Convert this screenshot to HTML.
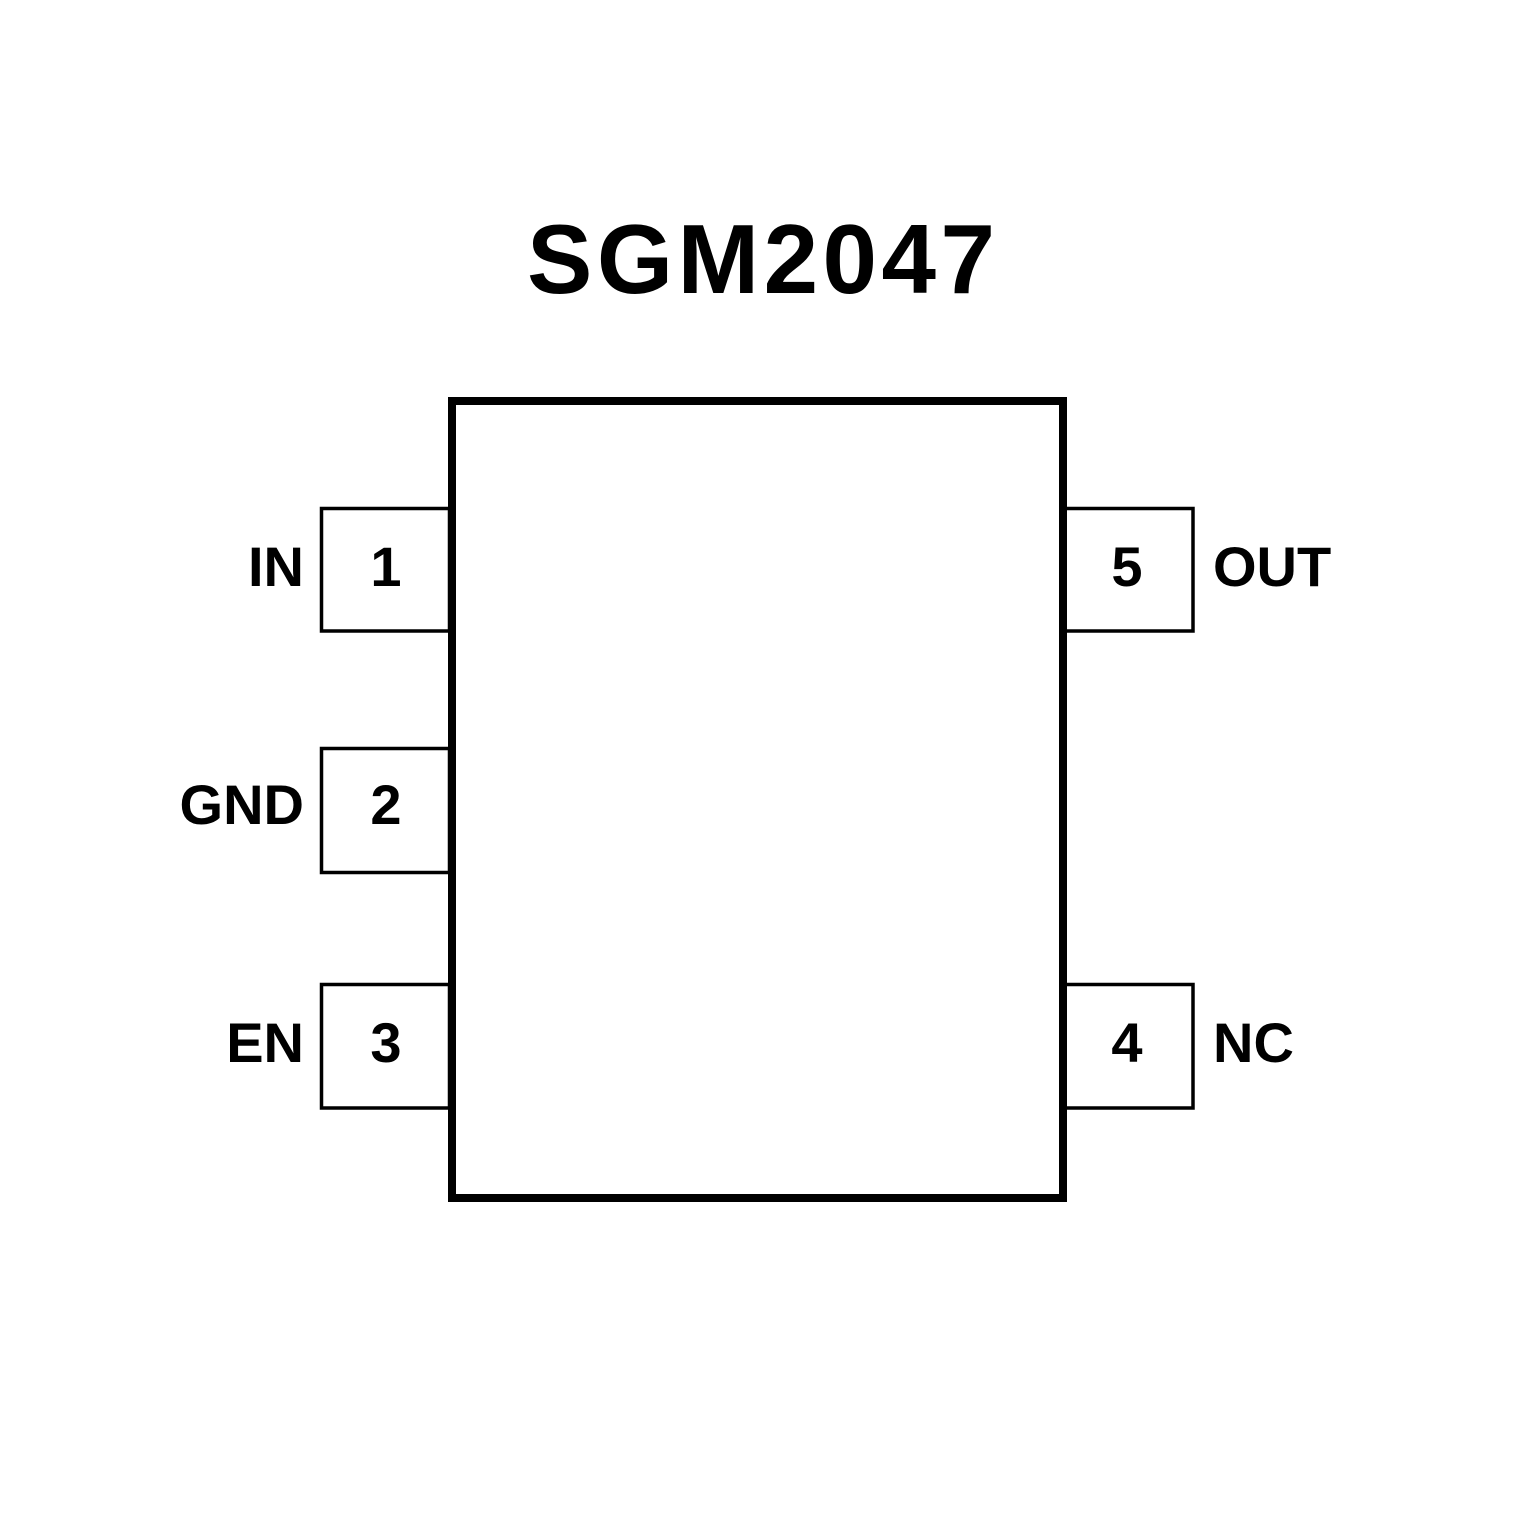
<!DOCTYPE html>
<html><head><meta charset="utf-8"><style>
html,body{margin:0;padding:0;background:#fff}
svg{display:block}
text{font-family:"Liberation Sans",Arial,sans-serif;font-weight:bold;fill:#000}
</style></head><body>
<svg width="1535" height="1535" viewBox="0 0 1535 1535" xmlns="http://www.w3.org/2000/svg">
<rect width="1535" height="1535" fill="#fff"/>
<text x="761" y="293" font-size="98" text-anchor="middle" textLength="468" lengthAdjust="spacing">SGM2047</text>
<g fill="#fff" stroke="#000" stroke-width="3.5">
<rect x="321.5" y="508.5" width="128" height="122.5"/>
<rect x="321.5" y="748.5" width="128" height="124"/>
<rect x="321.5" y="984.5" width="128" height="123.5"/>
<rect x="1065" y="508.5" width="128" height="122.5"/>
<rect x="1065" y="984.5" width="128" height="123.5"/>
</g>
<rect x="452" y="401" width="611" height="797" fill="#fff" stroke="#000" stroke-width="8"/>
<g font-size="56">
<text x="386" y="586" text-anchor="middle">1</text>
<text x="386" y="824" text-anchor="middle">2</text>
<text x="386" y="1062" text-anchor="middle">3</text>
<text x="1127" y="586" text-anchor="middle">5</text>
<text x="1127" y="1062" text-anchor="middle">4</text>
<text x="304" y="586" text-anchor="end">IN</text>
<text x="304" y="824" text-anchor="end">GND</text>
<text x="304" y="1062" text-anchor="end">EN</text>
<text x="1213" y="586">OUT</text>
<text x="1213" y="1062">NC</text>
</g>
</svg>
</body></html>
